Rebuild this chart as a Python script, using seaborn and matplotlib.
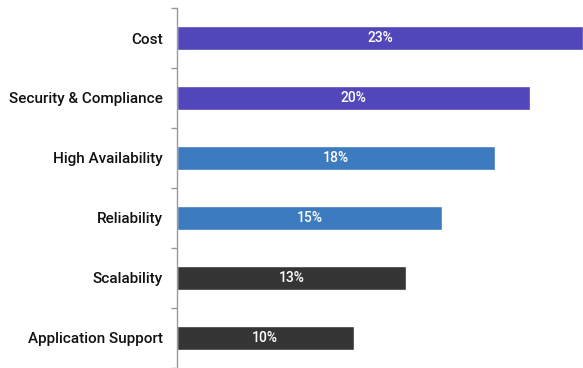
import matplotlib
matplotlib.use("Agg")
import matplotlib.pyplot as plt
import seaborn as sns
import pandas as pd
import numpy as np

categories = ["Cost", "Security & Compliance", "High Availability", "Reliability",
              "Scalability", "Application Support"]
values = [23, 20, 18, 15, 13, 10]
value_labels = ["23%", "20%", "18%", "15%", "13%", "10%"]
colors = ["#5246BB", "#5246BB", "#3C7BBF", "#3C7BBF", "#353535", "#353535"]

sns.set_theme(style="white")
plt.rcParams['font.family'] = ['Roboto', 'DejaVu Sans']

df = pd.DataFrame({"category": categories, "value": values})

fig = plt.figure(figsize=(5.83, 3.68), dpi=100)
ax = fig.add_axes([177/583, 0.0, 1 - 177/583, 1 - 8/368])

sns.barplot(data=df, y="category", x="value", hue="category", palette=colors,
            orient="h", width=0.41, legend=False, ax=ax, saturation=1)

for p, lab in zip(ax.patches, value_labels):
    cx = p.get_x() + p.get_width() / 2
    cy = p.get_y() + p.get_height() / 2
    ax.text(cx, cy, lab, color="white", ha="center", va="center", fontsize=10,
            fontweight="medium")

ax.set_xlim(0, 23)
ax.set_ylim(5.5, -0.5)
ax.set_xlabel("")
ax.set_ylabel("")
ax.set_xticks([])
for s in ["top", "right", "bottom"]:
    ax.spines[s].set_visible(False)
ax.spines["left"].set_color("#9a9a9a")
ax.spines["left"].set_linewidth(1.0)

ax.tick_params(axis="y", which="major", length=0, pad=10, labelsize=11,
               labelcolor="#111111")
for t in ax.get_yticklabels():
    t.set_fontweight("medium")
ax.set_yticks(np.arange(-0.5, 6.0, 1.0), minor=True)
ax.tick_params(axis="y", which="minor", length=4, width=1.0, color="#9a9a9a",
               direction="out", left=True)

fig.savefig("out.png", dpi=100)
